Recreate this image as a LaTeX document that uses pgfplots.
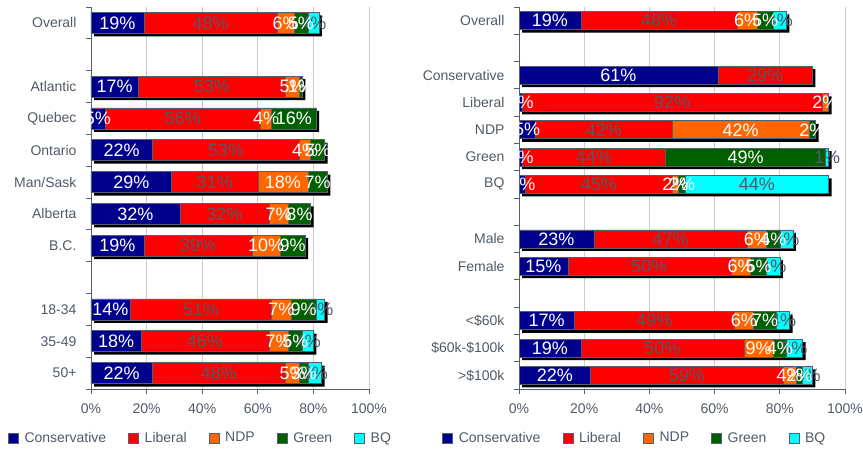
\documentclass[border=0pt]{standalone}
\usepackage{pgfplots}
\usepackage{pgfplotstable}
\pgfplotsset{compat=1.18}
\usepackage{fontspec}
\setmainfont{Liberation Sans}
\definecolor{cCon}{RGB}{0,0,140}
\definecolor{cLib}{RGB}{255,0,0}
\definecolor{cNDP}{RGB}{255,102,0}
\definecolor{cGrn}{RGB}{0,96,0}
\definecolor{cBQ}{RGB}{0,255,255}
\definecolor{cBorder}{RGB}{84,96,112}
\definecolor{cText}{RGB}{80,90,102}
\definecolor{cGrid}{RGB}{205,205,205}
% left panel: y = slot index (0 = top)
\pgfplotstableread{
y  con lib ndp grn bq tot
0  19  48  6   5   4  82
2  17  53  5   1   0  76
3  5   56  4   16  0  81
4  22  53  4   5   0  84
5  29  31  18  7   0  85
6  32  32  7   8   0  79
7  19  39  10  9   0  77
9  14  51  7   9   3  84
10 18  46  7   5   4  80
11 22  48  5   3   5  83
}\leftdata
% right panel
\pgfplotstableread{
y  con lib ndp grn bq tot
0  19  48  6   5   4  82
2  61  29  0   0   0  90
3  1   92  2   0   0  95
4  5   42  42  2   0  91
5  1   44  0   49  1  95
6  2   45  2   2   44 95
8  23  47  6   4   4  84
9  15  50  6   5   4  80
11 17  49  6   7   4  83
12 19  50  9   4   5  87
13 22  59  4   2   3  90
}\rightdata
\pgfplotsset{
  geomL/.style={at={(91pt,60pt)}, anchor=south west, scale only axis, width=278pt, height=382pt,
    xmin=0, xmax=100, ymin=-0.5, ymax=11.5, y dir=reverse},
  geomR/.style={at={(519pt,60pt)}, anchor=south west, scale only axis, width=326pt, height=382pt,
    xmin=0, xmax=100, ymin=-0.5, ymax=13.5, y dir=reverse},
  frame/.style={
    axis x line*=bottom, axis y line*=left,
    axis line style={-, draw=cBorder, line width=0.8pt},
    xtick={0,20,40,60,80,100},
    xticklabels={0\%,20\%,40\%,60\%,80\%,100\%},
    xmajorgrids, grid style={draw=cGrid, line width=0.8pt},
    tick align=outside, major tick length=5pt,
    x tick style={draw=cBorder, line width=0.8pt},
    y tick style={draw=none},
    tick label style={font=\fontsize{14}{16}\selectfont, text=cText},
    yticklabel style={xshift=-6pt},
    xticklabel style={yshift=-6pt},
    extra y tick style={grid=none, y tick style={draw=cBorder, line width=0.8pt}},
    extra y tick labels={},
  },
  shadow/.style={hide axis, xbar, bar width=#1},
  bars/.style={hide axis, xbar stacked, bar width=#1,
    legend columns=5,
    legend style={draw=none, fill=none, font=\fontsize{14}{16}\selectfont, text=cText,
      anchor=west,
      /tikz/every odd column/.append style={column sep=4pt},
      /tikz/every even column/.append style={column sep=20pt}},
  },
  labs/.style={hide axis, xbar stacked, bar width=#1,
    point meta=explicit symbolic,
    nodes near coords={\ifnum\pgfplotspointmeta>0 \pgfplotspointmeta\%\fi},
  },
  myleg/.style={legend image code/.code={\draw[##1,draw=cBorder,line width=0.5pt] (0pt,-5pt) rectangle (10pt,5pt);}},
  bstyle/.style={fill=#1, draw=cBorder, line width=0.6pt, myleg},
  lstyle/.style={draw=none, fill=none, every node near coord/.append style={text=#1,
      anchor=center, font=\fontsize{18}{20}\selectfont, inner sep=0pt}},
}
\begin{document}
\begin{tikzpicture}
\useasboundingbox (0pt,0pt) rectangle (863pt,449pt);
% ---------------- LEFT PANEL ----------------
\begin{axis}[geomL, frame,
  ytick={0,2,3,4,5,6,7,9,10,11},
  yticklabels={Overall,Atlantic,Quebec,Ontario,Man/Sask,Alberta,B.C.,18-34,35-49,50+},
  extra y ticks={-0.5,0.5,1.5,2.5,3.5,4.5,5.5,6.5,7.5,8.5,9.5,10.5,11.5}]
\addplot[draw=none] coordinates {(0,0)};
\end{axis}
\begin{axis}[geomL, shadow=21pt, at={(94pt,57pt)}]
\addplot[fill=black, draw=none] table[x=tot, y=y] {\leftdata};
\end{axis}
\begin{axis}[geomL, bars=21pt, legend style={at={(-0.31,-0.128)}}]
\addplot[bstyle=cCon] table[x=con, y=y] {\leftdata};
\addplot[bstyle=cLib] table[x=lib, y=y] {\leftdata};
\addplot[bstyle=cNDP] table[x=ndp, y=y] {\leftdata};
\addplot[bstyle=cGrn] table[x=grn, y=y] {\leftdata};
\addplot[bstyle=cBQ]  table[x=bq,  y=y] {\leftdata};
\legend{Conservative,Liberal,NDP,Green,BQ}
\end{axis}
\begin{axis}[geomL, labs=21pt]
\addplot[lstyle=white]  table[x=con, y=y, meta=con] {\leftdata};
\addplot[lstyle=cText]  table[x=lib, y=y, meta=lib] {\leftdata};
\addplot[lstyle=white]  table[x=ndp, y=y, meta=ndp] {\leftdata};
\addplot[lstyle=white]  table[x=grn, y=y, meta=grn] {\leftdata};
\addplot[lstyle=cText]  table[x=bq,  y=y, meta=bq]  {\leftdata};
\end{axis}
% ---------------- RIGHT PANEL ----------------
\begin{axis}[geomR, frame,
  ytick={0,2,3,4,5,6,8,9,11,12,13},
  yticklabels={Overall,Conservative,Liberal,NDP,Green,BQ,Male,Female,<\$60k,\$60k-\$100k,>\$100k},
  extra y ticks={-0.5,0.5,1.5,2.5,3.5,4.5,5.5,6.5,7.5,8.5,9.5,10.5,11.5,12.5,13.5}]
\addplot[draw=none] coordinates {(0,0)};
\end{axis}
\begin{axis}[geomR, shadow=18pt, at={(522pt,57pt)}]
\addplot[fill=black, draw=none] table[x=tot, y=y] {\rightdata};
\end{axis}
\begin{axis}[geomR, bars=18pt, legend style={at={(-0.245,-0.128)}}]
\addplot[bstyle=cCon] table[x=con, y=y] {\rightdata};
\addplot[bstyle=cLib] table[x=lib, y=y] {\rightdata};
\addplot[bstyle=cNDP] table[x=ndp, y=y] {\rightdata};
\addplot[bstyle=cGrn] table[x=grn, y=y] {\rightdata};
\addplot[bstyle=cBQ]  table[x=bq,  y=y] {\rightdata};
\legend{Conservative,Liberal,NDP,Green,BQ}
\end{axis}
\begin{axis}[geomR, labs=18pt]
\addplot[lstyle=white]  table[x=con, y=y, meta=con] {\rightdata};
\addplot[lstyle=cText]  table[x=lib, y=y, meta=lib] {\rightdata};
\addplot[lstyle=white]  table[x=ndp, y=y, meta=ndp] {\rightdata};
\addplot[lstyle=white]  table[x=grn, y=y, meta=grn] {\rightdata};
\addplot[lstyle=cText]  table[x=bq,  y=y, meta=bq]  {\rightdata};
\end{axis}
\end{tikzpicture}
\end{document}
